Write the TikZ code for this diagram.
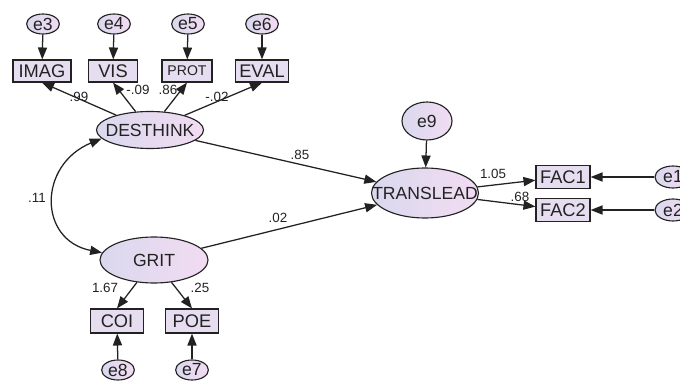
\documentclass[tikz,border=0pt]{standalone}
\usepackage{fontspec}
\setmainfont{Liberation Sans}
\usetikzlibrary{shapes, shapes.geometric, arrows.meta, positioning}

\definecolor{lavl}{HTML}{DAD8EE}
\definecolor{lavr}{HTML}{F2DCF2}
\definecolor{boxfill}{HTML}{E6DEF0}
\definecolor{ink}{HTML}{222222}
\newcommand{\tx}[1]{\makebox[0pt]{#1}}

\begin{document}
\begin{tikzpicture}[
  x=0.025cm, y=-0.025cm,
  color=ink, line width=0.8pt,
  latent/.style={ellipse, draw, left color=lavl, right color=lavr, inner sep=0pt, font=\fontsize{12.5}{14}\selectfont},
  err/.style={ellipse, draw, left color=lavl, right color=lavr, inner sep=0pt, minimum width=0.82cm, minimum height=0.5cm, font=\fontsize{12.5}{14}\selectfont},
  obs/.style={rectangle, draw, fill=boxfill, inner sep=0pt, minimum height=0.55cm, font=\fontsize{13}{14}\selectfont},
  arr/.style={-{Triangle[length=8.5pt,width=6.5pt]}, line width=0.9pt},
  dbl/.style={{Triangle[length=8.5pt,width=6.5pt]}-{Triangle[length=8.5pt,width=6.5pt]}, line width=0.9pt},
  coef/.style={font=\fontsize{9.5}{10}\selectfont}]

  \clip (0,0) rectangle (680,381);

  % latent variables
  \node[latent, minimum width=2.675cm, minimum height=0.925cm] (dest) at (150,130) {\tx{DESTHINK}};
  \node[latent, minimum width=2.7cm, minimum height=1.15cm] (grit) at (154,260) {\tx{GRIT}};
  \node[latent, minimum width=2.675cm, minimum height=1.25cm] (trans) at (425,193) {\tx{TRANSLEAD}};

  % observed variables
  \node[obs, minimum width=1.45cm] (imag) at (42,71) {IMAG};
  \node[obs, minimum width=1.225cm] (vis) at (113,71) {VIS};
  \node[obs, minimum width=1.25cm, font=\fontsize{10}{12}\selectfont] (prot) at (187,71) {PROT};
  \node[obs, minimum width=1.325cm] (eval) at (262,71) {EVAL};
  \node[obs, minimum width=1.325cm, minimum height=0.6cm] (coi) at (117,321) {COI};
  \node[obs, minimum width=1.325cm, minimum height=0.6cm] (poe) at (192,321) {POE};
  \node[obs, minimum width=1.35cm, minimum height=0.575cm] (fac1) at (563,177) {FAC1};
  \node[obs, minimum width=1.35cm, minimum height=0.575cm] (fac2) at (563,210) {FAC2};

  % errors
  \node[err] (e3) at (43,24) {e3};
  \node[err] (e4) at (114,24) {e4};
  \node[err] (e5) at (188,24) {e5};
  \node[err] (e6) at (262,24) {e6};
  \node[err] (e8) at (118,370) {e8};
  \node[err] (e7) at (192,370) {e7};
  \node[err, minimum width=1.25cm, minimum height=0.95cm] (e9) at (427,121) {e9};
  \node[err, minimum width=0.9cm, minimum height=0.55cm] (e1) at (673,177) {e1};
  \node[err, minimum width=0.9cm, minimum height=0.55cm] (e2) at (673,210) {e2};

  % paths
  \draw[arr] (e3) -- (imag);
  \draw[arr] (e4) -- (vis);
  \draw[arr] (e5) -- (prot);
  \draw[arr] (e6) -- (eval);
  \draw[arr] (dest) -- (imag.south);
  \draw[arr] (dest) -- (vis.south);
  \draw[arr] (dest) -- (prot.south);
  \draw[arr] (dest) -- (eval.south);
  \draw[arr] (grit) -- (coi.north);
  \draw[arr] (grit) -- (poe.north);
  \draw[arr] (e8) -- (coi);
  \draw[arr] (e7) -- (poe);
  \draw[arr] (dest) -- (trans);
  \draw[arr] (grit) -- (trans);
  \draw[arr] (e9) -- (trans);
  \draw[arr] (trans) -- (fac1);
  \draw[arr] (trans) -- (fac2);
  \draw[arr] (e1) -- (fac1);
  \draw[arr] (e2) -- (fac2);
  \draw[dbl] (dest.190) .. controls (38,165) and (38,240) .. (grit.172);

  % estimates
  \node[coef] (c99) at (79,97) {.99};
  \node[coef] (c09) at (138,90) {-.09};
  \node[coef] (c86) at (168,90) {.86};
  \node[coef] (c02a) at (217,97) {-.02};
  \node[coef] (c85) at (300,155) {.85};
  \node[coef] (c02b) at (278,218) {.02};
  \node[coef] (c11) at (37,198) {.11};
  \node[coef] (c167) at (105,288) {1.67};
  \node[coef] (c25) at (200,288) {.25};
  \node[coef] (c105) at (493,174) {1.05};
  \node[coef] (c68) at (520,197) {.68};
\end{tikzpicture}
\end{document}
